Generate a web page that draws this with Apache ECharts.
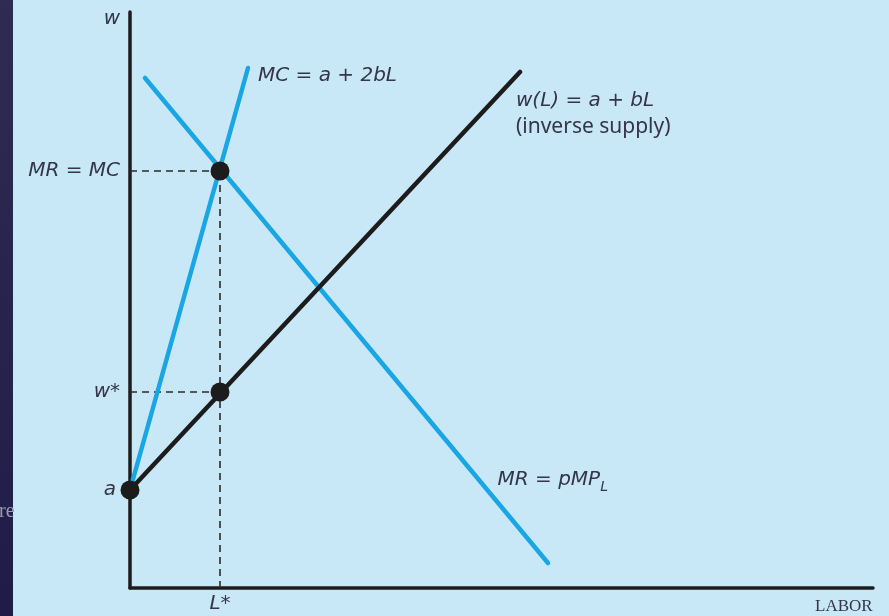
<!DOCTYPE html>
<html>
<head>
<meta charset="utf-8">
<script src="https://cdn.jsdelivr.net/npm/echarts@6/dist/echarts.min.js"></script>
<style>
  html, body { margin: 0; padding: 0; background: #c8e8f8; }
  #chart { width: 889px; height: 616px; }
</style>
</head>
<body>
<div id="chart"></div>
<script>
// 曲线端点（L, w）
const supplyLine = [[0, 98], [390, 516]];      // w(L) = a + bL
const mcLine = [[0, 98], [118, 520]];          // MC = a + 2bL
const mrLine = [[15, 510], [418, 25]];         // MR = pMP_L
// 关键点
const keyPoints = [[0, 98], [90, 196], [90, 417]];
// 虚线
const dashH1 = [[0, 417], [90, 417]];
const dashH2 = [[0, 196], [90, 196]];
const dashV = [[90, 0], [90, 417]];
// 坐标轴标签
const yTickValues = [98, 196, 417];
const yTickNames = { 98: '{a|a}', 196: 'w*', 417: 'MR = MC' };
const xTickValues = [90];
const xTickNames = { 90: 'L*' };

const chart = echarts.init(document.getElementById('chart'));

const blue = '#1aa6e4';
const ink = '#1c1c1c';
const txt = '#34344a';
const mathFont = { fontFamily: 'DejaVu Sans', fontStyle: 'italic', fontSize: 20, color: txt };

const dashStyle = { color: '#2a2a2a', width: 1.6, type: [7, 5] };

const option = {
  backgroundColor: '#c8e8f8',
  animation: false,
  graphic: [
    {
      type: 'rect',
      shape: { x: 0, y: 0, width: 13, height: 616 },
      style: {
        fill: new echarts.graphic.LinearGradient(0, 0, 0, 1, [
          { offset: 0, color: '#2e2c52' },
          { offset: 1, color: '#1f1d48' }
        ])
      },
      z: -1
    },
    {
      type: 'text',
      x: -1, y: 512,
      style: { text: 're', font: '20px "Liberation Serif"', fill: '#9c9cb4', verticalAlign: 'middle' }
    }
  ],
  grid: { left: 130, right: 16, top: 12, bottom: 28 },
  xAxis: {
    type: 'value', min: 0, max: 743,
    splitLine: { show: false },
    axisLine: { lineStyle: { color: ink, width: 3.5 } },
    axisTick: { show: false },
    name: 'LABOR',
    nameLocation: 'end',
    nameGap: -58,
    nameTextStyle: { fontFamily: 'Liberation Serif', fontSize: 17, color: txt, align: 'left', verticalAlign: 'top', padding: [10, 0, 0, 0] },
    axisLabel: {
      customValues: xTickValues,
      formatter: v => xTickNames[v] || '',
      margin: 6,
      ...mathFont
    }
  },
  yAxis: {
    type: 'value', min: 0, max: 576,
    splitLine: { show: false },
    axisLine: { lineStyle: { color: ink, width: 3.5 } },
    axisTick: { show: false },
    name: 'w',
    nameLocation: 'end',
    nameGap: -7,
    nameTextStyle: { ...mathFont, align: 'right', verticalAlign: 'middle', padding: [0, 10, 0, 0] },
    axisLabel: {
      customValues: yTickValues,
      formatter: v => yTickNames[v] || '',
      margin: 10,
      ...mathFont,
      rich: { a: { ...mathFont, padding: [0, 4, 0, 0] } }
    }
  },
  series: [
    { type: 'line', data: dashH1, symbol: 'none', lineStyle: dashStyle, z: 1 },
    { type: 'line', data: dashH2, symbol: 'none', lineStyle: dashStyle, z: 1 },
    { type: 'line', data: dashV, symbol: 'none', lineStyle: dashStyle, z: 1 },
    {
      type: 'line', data: mrLine, symbol: 'none',
      lineStyle: { color: blue, width: 4.5, cap: 'round' }, z: 2,
      markPoint: {
        symbol: 'circle',
        symbolSize: 1,
        itemStyle: { color: 'rgba(0,0,0,0)' },
        data: [{ coord: [367, 108], value: 'MR' }],
        label: {
          show: true, position: 'right', distance: 0,
          formatter: '{m|MR = pMP}{s|L}',
          rich: {
            m: { ...mathFont },
            s: { ...mathFont, fontSize: 14, padding: [14, 0, 0, 0] }
          }
        }
      }
    },
    {
      type: 'line', data: mcLine, symbol: 'none',
      lineStyle: { color: blue, width: 4.5, cap: 'round' }, z: 3,
      endLabel: {
        show: true, formatter: 'MC = a + 2bL', offset: [2, 8], ...mathFont
      }
    },
    {
      type: 'line', data: supplyLine, symbol: 'none',
      lineStyle: { color: ink, width: 4.5, cap: 'round' }, z: 3,
      endLabel: {
        show: true,
        formatter: '{m|w(L) = a + bL}\n{n|(inverse supply)}',
        offset: [-12, 42],
        align: 'left',
        rich: {
          m: { ...mathFont, lineHeight: 27 },
          n: { fontFamily: 'Noto Sans', fontSize: 21, color: txt, lineHeight: 27 }
        }
      }
    },
    {
      type: 'scatter', data: keyPoints, symbolSize: 19,
      itemStyle: { color: ink, opacity: 1 }, z: 5
    }
  ]
};

chart.setOption(option);
</script>
</body>
</html>
